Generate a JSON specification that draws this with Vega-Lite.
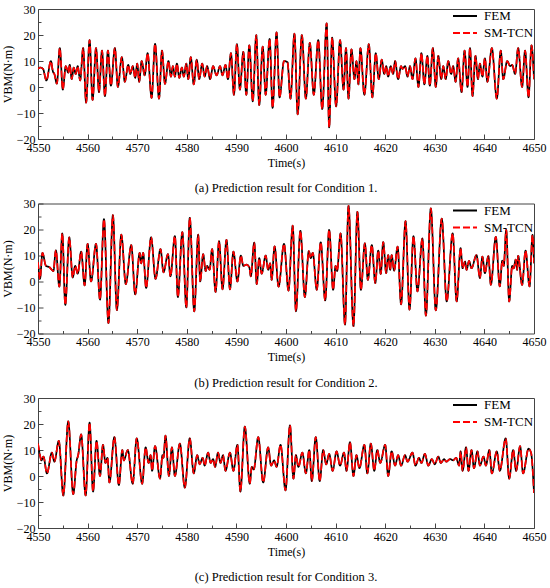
{
  "$schema": "https://vega.github.io/schema/vega-lite/v6.json",
  "padding": {"left": 0, "top": 2, "right": 4, "bottom": 0},
  "background": "white",
  "datasets": {
    "a": [
      {"t":4550.0,"v":7},{"t":4550.5,"v":7.5},{"t":4551.0,"v":7},{"t":4551.7,"v":2.5},{"t":4552.6,"v":10},{"t":4553.0,"v":6},{"t":4553.3,"v":5},{"t":4553.8,"v":1.3},{"t":4554.4,"v":15},{"t":4555.0,"v":-1},
      {"t":4555.6,"v":8},{"t":4556.1,"v":5.5},{"t":4556.4,"v":8.5},{"t":4556.8,"v":3},{"t":4557.2,"v":7.5},{"t":4557.6,"v":5},{"t":4558.0,"v":8},{"t":4558.5,"v":2.5},{"t":4559.1,"v":15},{"t":4559.7,"v":-6},
      {"t":4560.4,"v":18},{"t":4561.0,"v":-5},{"t":4561.7,"v":15},{"t":4562.3,"v":-2},{"t":4562.9,"v":14},{"t":4563.5,"v":-3.5},{"t":4564.1,"v":14},{"t":4564.7,"v":0.5},{"t":4565.5,"v":15},{"t":4566.1,"v":0},
      {"t":4566.9,"v":11.5},{"t":4567.5,"v":2},{"t":4568.2,"v":8.5},{"t":4568.6,"v":5},{"t":4569.1,"v":8},{"t":4569.6,"v":3.5},{"t":4570.0,"v":9},{"t":4570.4,"v":2},{"t":4570.9,"v":10},{"t":4571.5,"v":4.5},
      {"t":4572.1,"v":13},{"t":4572.9,"v":-4.2},{"t":4573.6,"v":16.6},{"t":4574.4,"v":-4.5},{"t":4575.0,"v":14},{"t":4575.6,"v":1.2},{"t":4576.3,"v":10},{"t":4576.8,"v":4},{"t":4577.2,"v":8},{"t":4577.6,"v":4},
      {"t":4578.0,"v":9},{"t":4578.5,"v":3.5},{"t":4579.0,"v":7.5},{"t":4579.4,"v":4},{"t":4579.9,"v":9},{"t":4580.3,"v":3},{"t":4580.8,"v":11.5},{"t":4581.4,"v":1},{"t":4582.0,"v":10.5},{"t":4582.5,"v":3},
      {"t":4583.1,"v":9},{"t":4583.6,"v":4},{"t":4584.1,"v":8},{"t":4584.7,"v":3},{"t":4585.3,"v":8},{"t":4586.0,"v":4.5},{"t":4586.7,"v":8},{"t":4587.2,"v":4.5},{"t":4587.8,"v":8.5},{"t":4588.3,"v":3},
      {"t":4588.9,"v":13},{"t":4589.5,"v":-3},{"t":4590.1,"v":16.5},{"t":4590.7,"v":-1},{"t":4591.4,"v":13.5},{"t":4592.0,"v":-3},{"t":4592.6,"v":16},{"t":4593.3,"v":-5.5},{"t":4594.0,"v":20},{"t":4594.6,"v":-7},
      {"t":4595.3,"v":15.5},{"t":4595.9,"v":-3},{"t":4596.7,"v":18.5},{"t":4597.3,"v":-8},{"t":4598.1,"v":21},{"t":4598.7,"v":-4},{"t":4599.6,"v":10},{"t":4600.3,"v":9.5},{"t":4600.9,"v":-4.5},{"t":4601.7,"v":20.5},
      {"t":4602.35,"v":-10.5},{"t":4603.2,"v":20},{"t":4604.0,"v":-4.5},{"t":4604.8,"v":17},{"t":4605.6,"v":-3},{"t":4606.5,"v":18},{"t":4607.3,"v":-8.5},{"t":4608.2,"v":24.5},{"t":4608.7,"v":-15.5},{"t":4609.3,"v":19},
      {"t":4610.1,"v":-7.5},{"t":4610.9,"v":18},{"t":4611.6,"v":-1},{"t":4612.1,"v":15},{"t":4612.6,"v":-4.5},{"t":4613.2,"v":14.5},{"t":4613.8,"v":3},{"t":4614.2,"v":10},{"t":4614.6,"v":1},{"t":4615.0,"v":15},
      {"t":4615.8,"v":-3},{"t":4616.7,"v":16.5},{"t":4617.4,"v":-4},{"t":4618.1,"v":13},{"t":4618.7,"v":3},{"t":4619.3,"v":10.5},{"t":4619.8,"v":5},{"t":4620.2,"v":8},{"t":4620.6,"v":4},{"t":4621.1,"v":8},
      {"t":4621.6,"v":5},{"t":4622.0,"v":10},{"t":4622.6,"v":3},{"t":4623.2,"v":8},{"t":4623.5,"v":7},{"t":4624.0,"v":8},{"t":4624.5,"v":4},{"t":4625.0,"v":8},{"t":4625.5,"v":3},{"t":4626.1,"v":11},
      {"t":4626.7,"v":0},{"t":4627.3,"v":13},{"t":4627.9,"v":1},{"t":4628.5,"v":12},{"t":4629.0,"v":0.5},{"t":4629.6,"v":15},{"t":4630.2,"v":0},{"t":4630.7,"v":12},{"t":4631.3,"v":3},{"t":4631.7,"v":8},
      {"t":4632.2,"v":3},{"t":4632.7,"v":10},{"t":4633.3,"v":5},{"t":4633.7,"v":8},{"t":4634.2,"v":2},{"t":4634.7,"v":11},{"t":4635.4,"v":-2},{"t":4636.0,"v":14},{"t":4636.6,"v":0},{"t":4637.1,"v":15},
      {"t":4637.6,"v":-3.5},{"t":4638.2,"v":12},{"t":4638.7,"v":3},{"t":4639.1,"v":9},{"t":4639.6,"v":4},{"t":4640.1,"v":11},{"t":4640.6,"v":2},{"t":4641.5,"v":15},{"t":4642.5,"v":-4.5},{"t":4643.3,"v":14},
      {"t":4643.8,"v":3},{"t":4644.6,"v":10},{"t":4645.2,"v":8},{"t":4645.6,"v":8.5},{"t":4646.2,"v":5},{"t":4646.8,"v":15},{"t":4647.6,"v":0},{"t":4648.2,"v":14},{"t":4648.9,"v":-4},{"t":4649.5,"v":16},
      {"t":4650.0,"v":3}
    ],
    "b": [
      {"t":4550.0,"v":7.5},{"t":4550.4,"v":1},{"t":4550.9,"v":11},{"t":4551.6,"v":6},{"t":4552.3,"v":5.5},{"t":4552.8,"v":4.5},{"t":4553.1,"v":4},{"t":4553.6,"v":12},{"t":4554.3,"v":-2},{"t":4554.9,"v":18.5},
      {"t":4555.5,"v":-9},{"t":4556.3,"v":17},{"t":4557.0,"v":1.5},{"t":4557.5,"v":6},{"t":4558.0,"v":3},{"t":4558.7,"v":11.5},{"t":4559.4,"v":-1.5},{"t":4560.0,"v":14.5},{"t":4560.7,"v":0},{"t":4561.7,"v":14.5},
      {"t":4562.5,"v":-7},{"t":4563.3,"v":24},{"t":4564.2,"v":-16},{"t":4565.1,"v":25.5},{"t":4565.9,"v":-11},{"t":4566.8,"v":18},{"t":4567.7,"v":-1},{"t":4568.8,"v":14},{"t":4569.6,"v":-5},{"t":4570.5,"v":11},
      {"t":4570.8,"v":7},{"t":4571.2,"v":11},{"t":4571.8,"v":-2.5},{"t":4572.8,"v":17},{"t":4573.7,"v":1},{"t":4574.7,"v":12.5},{"t":4575.3,"v":3.5},{"t":4576.2,"v":10.5},{"t":4576.7,"v":2},{"t":4577.6,"v":17.5},
      {"t":4578.2,"v":-6},{"t":4579.1,"v":19},{"t":4579.9,"v":-10},{"t":4580.6,"v":24.5},{"t":4581.5,"v":-11.5},{"t":4582.3,"v":18},{"t":4582.7,"v":0},{"t":4583.3,"v":10.5},{"t":4583.8,"v":4},{"t":4584.1,"v":6},
      {"t":4584.6,"v":4.5},{"t":4585.1,"v":12.5},{"t":4585.8,"v":-4},{"t":4586.5,"v":15.5},{"t":4587.2,"v":-3},{"t":4588.0,"v":16},{"t":4588.7,"v":-3},{"t":4589.4,"v":11.5},{"t":4590.2,"v":0},{"t":4590.9,"v":10},
      {"t":4591.4,"v":6},{"t":4592.0,"v":6.5},{"t":4592.6,"v":5.5},{"t":4592.9,"v":2},{"t":4593.6,"v":15},{"t":4594.1,"v":-1},{"t":4594.6,"v":9},{"t":4595.1,"v":3},{"t":4595.9,"v":10},{"t":4596.4,"v":4.5},
      {"t":4596.8,"v":7},{"t":4597.1,"v":0.6},{"t":4597.7,"v":13.5},{"t":4598.5,"v":-2},{"t":4599.6,"v":14.5},{"t":4600.5,"v":-3.5},{"t":4601.35,"v":21.5},{"t":4602.0,"v":-11.5},{"t":4602.9,"v":19.5},{"t":4603.8,"v":-6},
      {"t":4604.6,"v":11.7},{"t":4605.0,"v":9},{"t":4605.4,"v":11},{"t":4606.2,"v":-3.2},{"t":4607.0,"v":15.1},{"t":4607.9,"v":-7.3},{"t":4608.7,"v":19.9},{"t":4609.5,"v":-3.2},{"t":4610.0,"v":6},{"t":4610.3,"v":4},
      {"t":4611.0,"v":18.5},{"t":4611.9,"v":-16.6},{"t":4612.6,"v":29.1},{"t":4613.6,"v":-17.2},{"t":4614.4,"v":26.8},{"t":4615.1,"v":-3.2},{"t":4615.9,"v":14.7},{"t":4616.5,"v":0.6},{"t":4617.3,"v":14},{"t":4618.0,"v":-0.6},
      {"t":4618.6,"v":11.9},{"t":4619.1,"v":2.9},{"t":4619.6,"v":15.2},{"t":4620.2,"v":3.2},{"t":4620.6,"v":10.2},{"t":4621.0,"v":4.5},{"t":4621.3,"v":10.2},{"t":4621.8,"v":4.2},{"t":4622.5,"v":13.4},{"t":4623.2,"v":-8.8},
      {"t":4624.1,"v":23.2},{"t":4624.9,"v":-10.8},{"t":4625.7,"v":17.5},{"t":4626.5,"v":-3.8},{"t":4627.5,"v":16.6},{"t":4628.2,"v":-13.1},{"t":4629.2,"v":28.1},{"t":4630.2,"v":-11.1},{"t":4631.4,"v":24.2},{"t":4632.4,"v":-7.7},
      {"t":4633.6,"v":18.5},{"t":4634.4,"v":-7.7},{"t":4635.2,"v":12.8},{"t":4635.6,"v":5.1},{"t":4636.1,"v":7.7},{"t":4636.4,"v":4.5},{"t":4636.9,"v":7.9},{"t":4637.4,"v":5.1},{"t":4638.4,"v":10.2},{"t":4639.1,"v":1.3},
      {"t":4639.6,"v":9.6},{"t":4640.1,"v":3.2},{"t":4640.8,"v":9.8},{"t":4641.3,"v":-1.3},{"t":4642.3,"v":17.2},{"t":4643.1,"v":-1.9},{"t":4643.6,"v":8},{"t":4643.9,"v":6},{"t":4644.4,"v":19.9},{"t":4645.0,"v":-7.7},
      {"t":4645.6,"v":6},{"t":4645.9,"v":5},{"t":4646.3,"v":8.4},{"t":4646.6,"v":4.5},{"t":4646.8,"v":9.9},{"t":4647.6,"v":-1.3},{"t":4648.3,"v":11.9},{"t":4649.1,"v":-1.9},{"t":4649.7,"v":17.9},{"t":4650.0,"v":7}
    ],
    "c": [
      {"t":4550.0,"v":12.5},{"t":4550.4,"v":8},{"t":4550.7,"v":6},{"t":4551.1,"v":7.5},{"t":4551.8,"v":1},{"t":4552.8,"v":9},{"t":4553.3,"v":5.5},{"t":4554.2,"v":13.5},{"t":4555.1,"v":-7.5},{"t":4556.1,"v":21},
      {"t":4557.1,"v":-7},{"t":4557.8,"v":6},{"t":4558.1,"v":8},{"t":4558.7,"v":16},{"t":4559.6,"v":-7.5},{"t":4560.4,"v":20.5},{"t":4561.1,"v":-6},{"t":4561.8,"v":13.5},{"t":4562.5,"v":0},{"t":4563.1,"v":12},
      {"t":4563.6,"v":5},{"t":4564.0,"v":7},{"t":4564.4,"v":-2.5},{"t":4565.4,"v":15},{"t":4566.3,"v":-3.5},{"t":4567.0,"v":10},{"t":4567.3,"v":6},{"t":4568.1,"v":10},{"t":4569.1,"v":-3},{"t":4569.9,"v":14.5},
      {"t":4571.0,"v":-3},{"t":4571.7,"v":11},{"t":4572.3,"v":5},{"t":4572.7,"v":8},{"t":4573.0,"v":2},{"t":4573.6,"v":11.5},{"t":4574.6,"v":-1},{"t":4575.1,"v":8},{"t":4575.3,"v":7},{"t":4575.7,"v":15.5},
      {"t":4576.4,"v":0},{"t":4577.0,"v":11},{"t":4577.6,"v":0},{"t":4578.6,"v":12.5},{"t":4579.6,"v":-4.5},{"t":4580.6,"v":14.5},{"t":4581.4,"v":1},{"t":4582.1,"v":8},{"t":4582.6,"v":4.5},{"t":4583.2,"v":7},
      {"t":4583.6,"v":4},{"t":4584.3,"v":9},{"t":4584.8,"v":5},{"t":4585.3,"v":6.5},{"t":4585.7,"v":3.5},{"t":4586.3,"v":9},{"t":4586.8,"v":5},{"t":4587.3,"v":8},{"t":4587.8,"v":2},{"t":4588.7,"v":9},
      {"t":4589.4,"v":2},{"t":4590.2,"v":12},{"t":4590.8,"v":-6},{"t":4591.7,"v":19},{"t":4592.7,"v":-3},{"t":4593.1,"v":3.5},{"t":4593.5,"v":2.5},{"t":4594.4,"v":15},{"t":4595.4,"v":-2.5},{"t":4596.4,"v":11},
      {"t":4597.0,"v":4},{"t":4597.6,"v":6},{"t":4598.1,"v":3.5},{"t":4598.9,"v":12},{"t":4599.9,"v":-5.5},{"t":4600.8,"v":19.5},{"t":4601.5,"v":-1},{"t":4602.0,"v":8},{"t":4602.5,"v":3.5},{"t":4603.3,"v":9},
      {"t":4604.0,"v":1},{"t":4604.7,"v":10},{"t":4605.2,"v":-2},{"t":4606.0,"v":15},{"t":4606.8,"v":-2},{"t":4607.5,"v":10},{"t":4608.1,"v":4.5},{"t":4608.7,"v":8.5},{"t":4609.4,"v":2},{"t":4610.2,"v":9.5},
      {"t":4610.9,"v":4},{"t":4611.7,"v":9},{"t":4612.2,"v":2},{"t":4612.9,"v":13},{"t":4613.6,"v":0},{"t":4614.2,"v":8},{"t":4614.8,"v":3},{"t":4615.8,"v":12},{"t":4616.4,"v":1},{"t":4617.1,"v":12.5},
      {"t":4617.8,"v":2},{"t":4618.4,"v":10},{"t":4619.0,"v":5},{"t":4620.0,"v":12},{"t":4620.6,"v":0},{"t":4621.3,"v":9.5},{"t":4622.0,"v":4},{"t":4622.6,"v":8},{"t":4623.2,"v":4},{"t":4624.0,"v":8},
      {"t":4624.5,"v":5.5},{"t":4625.5,"v":9},{"t":4626.1,"v":4},{"t":4626.8,"v":7},{"t":4627.3,"v":5},{"t":4628.0,"v":8.5},{"t":4628.7,"v":4},{"t":4629.4,"v":6.5},{"t":4630.0,"v":4.5},{"t":4630.7,"v":7.5},
      {"t":4631.2,"v":5},{"t":4631.9,"v":6.5},{"t":4632.3,"v":5.5},{"t":4633.1,"v":6.5},{"t":4633.7,"v":6},{"t":4634.3,"v":7},{"t":4634.9,"v":4},{"t":4635.2,"v":9.5},{"t":4635.6,"v":2},{"t":4636.3,"v":11},
      {"t":4636.8,"v":2},{"t":4637.4,"v":10},{"t":4637.9,"v":3},{"t":4638.6,"v":9.5},{"t":4639.1,"v":4},{"t":4639.8,"v":7.5},{"t":4640.3,"v":4},{"t":4641.0,"v":10},{"t":4641.5,"v":1},{"t":4642.5,"v":9.5},
      {"t":4643.1,"v":2},{"t":4644.3,"v":14.5},{"t":4645.0,"v":-1},{"t":4645.8,"v":10},{"t":4646.4,"v":2},{"t":4647.2,"v":11.5},{"t":4647.8,"v":1},{"t":4648.9,"v":10.5},{"t":4649.4,"v":9},{"t":4650.0,"v":-6.5}
    ]
  },
  "vconcat": [
    {
      "width": 496, "height": 130,
      "title": "(a) Prediction result for Condition 1.",
      "data": {"name": "a"},
      "encoding": {
        "x": {"field": "t", "type": "quantitative", "title": "Time(s)",
          "scale": {"domain": [4550, 4650], "nice": false, "zero": false},
          "axis": {"values": [4550,4555,4560,4565,4570,4575,4580,4585,4590,4595,4600,4605,4610,4615,4620,4625,4630,4635,4640,4645,4650],
            "format": "d",
            "labelExpr": "datum.value % 10 === 0 ? datum.label : ''",
            "tickSize": {"condition": {"test": "datum.value % 10 === 0", "value": -5}, "value": -3}}},
        "y": {"field": "v", "type": "quantitative", "title": "VBM(N·m)",
          "scale": {"domain": [-20, 30], "nice": false, "zero": false},
          "axis": {"values": [-20,-15,-10,-5,0,5,10,15,20,25,30],
            "format": "d",
            "labelExpr": "datum.value % 10 === 0 ? datum.label : ''",
            "tickSize": {"condition": {"test": "datum.value % 10 === 0", "value": -5}, "value": -3}}}
      },
      "layer": [
        {"mark": {"type": "line", "interpolate": "monotone", "strokeWidth": 1.7, "clip": true},
         "encoding": {
           "color": {"datum": "FEM", "scale": {"domain": ["FEM", "SM-TCN"], "range": ["#000000", "#ff0000"]}, "legend": {"title": null}},
           "strokeDash": {"datum": "FEM", "scale": {"domain": ["FEM", "SM-TCN"], "range": [[1, 0], [7, 3]]}, "legend": {"title": null}}}},
        {"mark": {"type": "line", "interpolate": "monotone", "strokeWidth": 1.7, "clip": true},
         "encoding": {
           "color": {"datum": "SM-TCN"},
           "strokeDash": {"datum": "SM-TCN"}}}
      ]
    },
    {
      "width": 496, "height": 130,
      "title": "(b) Prediction result for Condition 2.",
      "data": {"name": "b"},
      "encoding": {
        "x": {"field": "t", "type": "quantitative", "title": "Time(s)",
          "scale": {"domain": [4550, 4650], "nice": false, "zero": false},
          "axis": {"values": [4550,4555,4560,4565,4570,4575,4580,4585,4590,4595,4600,4605,4610,4615,4620,4625,4630,4635,4640,4645,4650],
            "format": "d",
            "labelExpr": "datum.value % 10 === 0 ? datum.label : ''",
            "tickSize": {"condition": {"test": "datum.value % 10 === 0", "value": -5}, "value": -3}}},
        "y": {"field": "v", "type": "quantitative", "title": "VBM(N·m)",
          "scale": {"domain": [-20, 30], "nice": false, "zero": false},
          "axis": {"values": [-20,-15,-10,-5,0,5,10,15,20,25,30],
            "format": "d",
            "labelExpr": "datum.value % 10 === 0 ? datum.label : ''",
            "tickSize": {"condition": {"test": "datum.value % 10 === 0", "value": -5}, "value": -3}}}
      },
      "layer": [
        {"mark": {"type": "line", "interpolate": "monotone", "strokeWidth": 1.7, "clip": true},
         "encoding": {
           "color": {"datum": "FEM", "scale": {"domain": ["FEM", "SM-TCN"], "range": ["#000000", "#ff0000"]}, "legend": {"title": null}},
           "strokeDash": {"datum": "FEM", "scale": {"domain": ["FEM", "SM-TCN"], "range": [[1, 0], [7, 3]]}, "legend": {"title": null}}}},
        {"mark": {"type": "line", "interpolate": "monotone", "strokeWidth": 1.7, "clip": true},
         "encoding": {
           "color": {"datum": "SM-TCN"},
           "strokeDash": {"datum": "SM-TCN"}}}
      ]
    },
    {
      "width": 496, "height": 130,
      "title": "(c) Prediction result for Condition 3.",
      "data": {"name": "c"},
      "encoding": {
        "x": {"field": "t", "type": "quantitative", "title": "Time(s)",
          "scale": {"domain": [4550, 4650], "nice": false, "zero": false},
          "axis": {"values": [4550,4555,4560,4565,4570,4575,4580,4585,4590,4595,4600,4605,4610,4615,4620,4625,4630,4635,4640,4645,4650],
            "format": "d",
            "labelExpr": "datum.value % 10 === 0 ? datum.label : ''",
            "tickSize": {"condition": {"test": "datum.value % 10 === 0", "value": -5}, "value": -3}}},
        "y": {"field": "v", "type": "quantitative", "title": "VBM(N·m)",
          "scale": {"domain": [-20, 30], "nice": false, "zero": false},
          "axis": {"values": [-20,-15,-10,-5,0,5,10,15,20,25,30],
            "format": "d",
            "labelExpr": "datum.value % 10 === 0 ? datum.label : ''",
            "tickSize": {"condition": {"test": "datum.value % 10 === 0", "value": -5}, "value": -3}}}
      },
      "layer": [
        {"mark": {"type": "line", "interpolate": "monotone", "strokeWidth": 1.7, "clip": true},
         "encoding": {
           "color": {"datum": "FEM", "scale": {"domain": ["FEM", "SM-TCN"], "range": ["#000000", "#ff0000"]}, "legend": {"title": null}},
           "strokeDash": {"datum": "FEM", "scale": {"domain": ["FEM", "SM-TCN"], "range": [[1, 0], [7, 3]]}, "legend": {"title": null}}}},
        {"mark": {"type": "line", "interpolate": "monotone", "strokeWidth": 1.7, "clip": true},
         "encoding": {
           "color": {"datum": "SM-TCN"},
           "strokeDash": {"datum": "SM-TCN"}}}
      ]
    }
  ],
  "resolve": {
    "scale": {"color": "independent", "strokeDash": "independent"},
    "legend": {"color": "independent", "strokeDash": "independent"}
  },
  "spacing": 1.5,
  "config": {
    "font": "Liberation Serif, Times New Roman, serif",
    "view": {"stroke": "#444444", "strokeWidth": 1},
    "axis": {
      "grid": false, "domain": false,
      "labelFont": "Liberation Serif, Times New Roman, serif", "labelFontSize": 12, "labelColor": "#000000",
      "titleFont": "Liberation Serif, Times New Roman, serif", "titleFontSize": 12, "titleFontWeight": "normal", "titleColor": "#000000",
      "tickColor": "#444444", "tickWidth": 1, "labelFlush": false, "labelOverlap": false, "labelPadding": 8
    },
    "axisX": {"titlePadding": 2},
    "axisY": {"titlePadding": 2},
    "title": {"orient": "bottom", "anchor": "middle", "font": "Liberation Serif, Times New Roman, serif", "fontSize": 12.5, "fontWeight": "normal", "color": "#000000", "offset": 14},
    "legend": {
      "orient": "top-right", "offset": 0, "padding": 0,
      "symbolType": "M-2,0L2,0", "symbolSize": 144, "symbolStrokeWidth": 2,
      "labelFont": "Liberation Serif, Times New Roman, serif", "labelFontSize": 13, "labelColor": "#000000",
      "labelOffset": 12, "rowPadding": 3
    }
  }
}
